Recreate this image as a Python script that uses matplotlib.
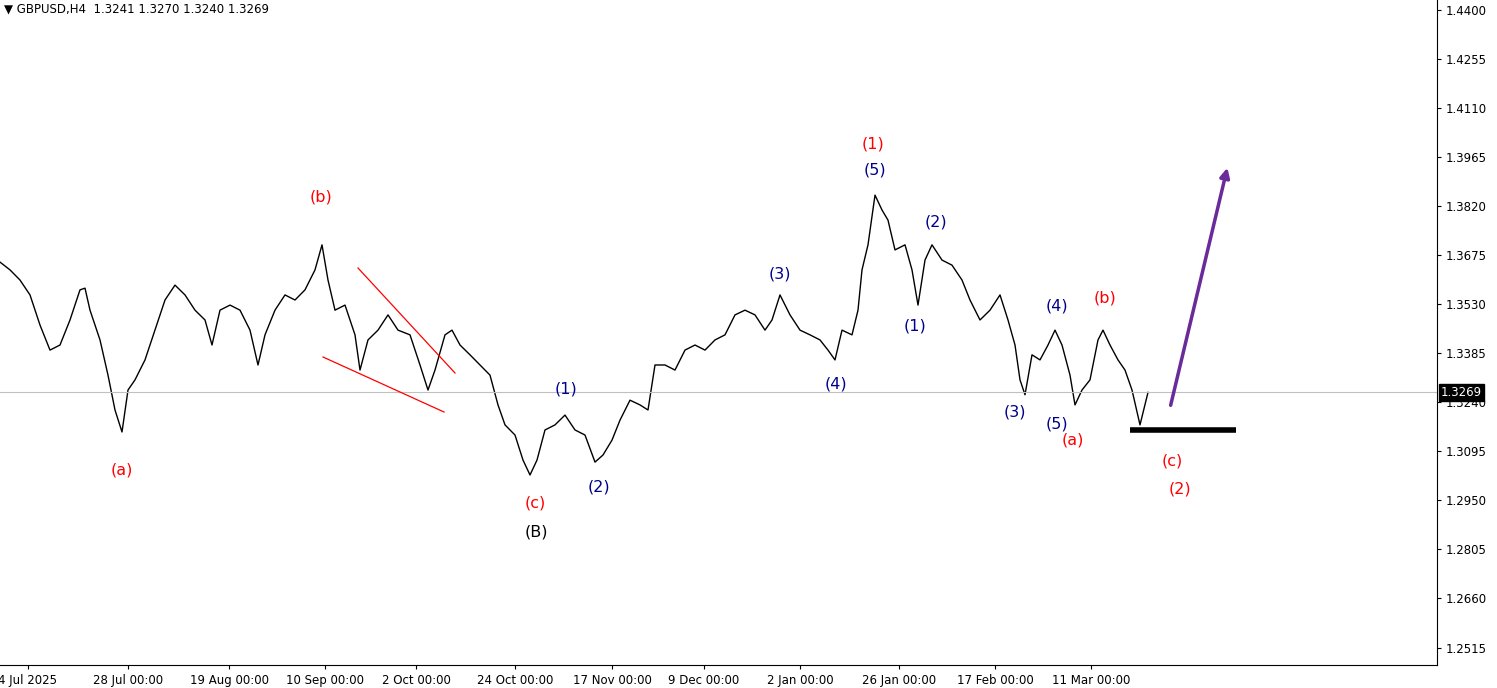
import matplotlib
matplotlib.use("Agg")
import matplotlib.pyplot as plt
import numpy as np

bars = [0,10,20,30,40,50,60,70,80,85,90,100,108,115,122,128,135,145,155,165,175,185,195,205,212,220,230,240,250,258,265,275,285,295,305,315,322,328,335,345,355,360,368,378,388,398,410,420,428,435,445,452,460,470,480,490,498,505,515,523,530,537,545,555,565,575,585,595,603,612,620,630,640,648,655,665,675,685,695,705,715,725,735,745,755,765,772,780,790,800,810,820,828,835,842,852,858,862,868,875,882,888,895,905,912,918,925,932,942,952,962,970,980,990,1000,1008,1015,1020,1025,1032,1040,1048,1055,1062,1070,1075,1082,1090,1098,1103,1110,1118,1125,1132,1140,1148]
close = [1.3654,1.3631,1.3601,1.3557,1.3468,1.3394,1.3409,1.3483,1.3572,1.3577,1.3512,1.3424,1.3320,1.3217,1.3152,1.3276,1.3306,1.3365,1.3453,1.3542,1.3586,1.3557,1.3512,1.3483,1.3409,1.3512,1.3527,1.3512,1.3453,1.3350,1.3439,1.3512,1.3557,1.3542,1.3572,1.3631,1.3705,1.3601,1.3512,1.3527,1.3439,1.3335,1.3424,1.3453,1.3498,1.3453,1.3439,1.3350,1.3276,1.3335,1.3439,1.3453,1.3409,1.3380,1.3350,1.3320,1.3232,1.3173,1.3143,1.3069,1.3025,1.3069,1.3158,1.3173,1.3202,1.3158,1.3143,1.3063,1.3084,1.3128,1.3187,1.3246,1.3232,1.3217,1.3350,1.3350,1.3335,1.3394,1.3409,1.3394,1.3424,1.3439,1.3498,1.3512,1.3498,1.3453,1.3483,1.3557,1.3498,1.3453,1.3439,1.3424,1.3394,1.3365,1.3453,1.3439,1.3512,1.3631,1.3705,1.3852,1.3808,1.3778,1.3690,1.3705,1.3631,1.3527,1.3660,1.3705,1.3660,1.3645,1.3601,1.3542,1.3483,1.3512,1.3557,1.3483,1.3409,1.3306,1.3262,1.3380,1.3365,1.3409,1.3453,1.3409,1.3320,1.3232,1.3276,1.3306,1.3424,1.3453,1.3409,1.3365,1.3335,1.3276,1.3173,1.3269]
tick_pos = [28,128,229,325,416,515,612,704,800,899,995,1091]
tick_labels = ["4 Jul 2025","28 Jul 00:00","19 Aug 00:00","10 Sep 00:00","2 Oct 00:00","24 Oct 00:00",
               "17 Nov 00:00","9 Dec 00:00","2 Jan 00:00","26 Jan 00:00","17 Feb 00:00","11 Mar 00:00"]
price_ticks = [1.4400,1.4255,1.4110,1.3965,1.3820,1.3675,1.3530,1.3385,1.3240,1.3095,1.2950,1.2805,1.2660,1.2515]
last = 1.3269

def p(y):
    return 1.3675 - (y - 255) * 0.0002955

fig = plt.figure(figsize=(14.97, 6.88), dpi=100)
ax = fig.add_axes([0.0, 1 - 665/688, 1437/1497, 665/688])
ax.set_xlim(0, 1437)
ax.set_ylim(p(665), p(0))
ax.plot(bars, close, color="black", lw=1.0)
ax.axhline(last, color="#c0c0c0", lw=0.8)

ax.yaxis.tick_right()
ax.set_yticks(price_ticks)
ax.set_yticklabels([f"{v:.4f}" for v in price_ticks], fontsize=8.5)
ax.set_xticks(tick_pos)
ax.set_xticklabels(tick_labels, fontsize=8.5)
ax.tick_params(length=3, color="black")
for s in ["top", "left"]:
    ax.spines[s].set_visible(False)

ax.text(1441, last, "1.3269", transform=ax.transData, fontsize=8.5, color="white",
        va="center", ha="left", bbox=dict(facecolor="black", edgecolor="black", pad=1.5), clip_on=False)
ax.text(4, p(9), "▼ GBPUSD,H4  1.3241 1.3270 1.3240 1.3269", fontsize=8.5, va="center", ha="left")

red, blue = "#ff0000", "#00008b"
labels = [("(b)",321,197,red),("(a)",122,470,red),("(c)",535,503,red),("(B)",536,532,"black"),
          ("(1)",566,389,blue),("(2)",599,487,blue),("(3)",780,274,blue),("(4)",836,384,blue),
          ("(1)",873,144,red),("(5)",875,170,blue),("(2)",936,222,blue),("(1)",915,326,blue),
          ("(3)",1015,412,blue),("(4)",1057,306,blue),("(5)",1057,424,blue),("(a)",1073,440,red),
          ("(b)",1105,298,red),("(c)",1172,461,red),("(2)",1180,489,red)]
for t, x, y, c in labels:
    ax.text(x, p(y), t, color=c, fontsize=11.5, ha="center", va="center")

ax.plot([358,455],[p(268),p(373)], color=red, lw=0.9)
ax.plot([323,444],[p(357),p(412)], color=red, lw=0.9)
ax.plot([1130,1236],[p(430),p(430)], color="black", lw=4, solid_capstyle="butt")
ax.annotate("", xy=(1228,p(165)), xytext=(1170,p(408)),
            arrowprops=dict(arrowstyle="-|>", color="#6a2a9a", lw=2.5, mutation_scale=14))
fig.savefig("out.png", dpi=100)
